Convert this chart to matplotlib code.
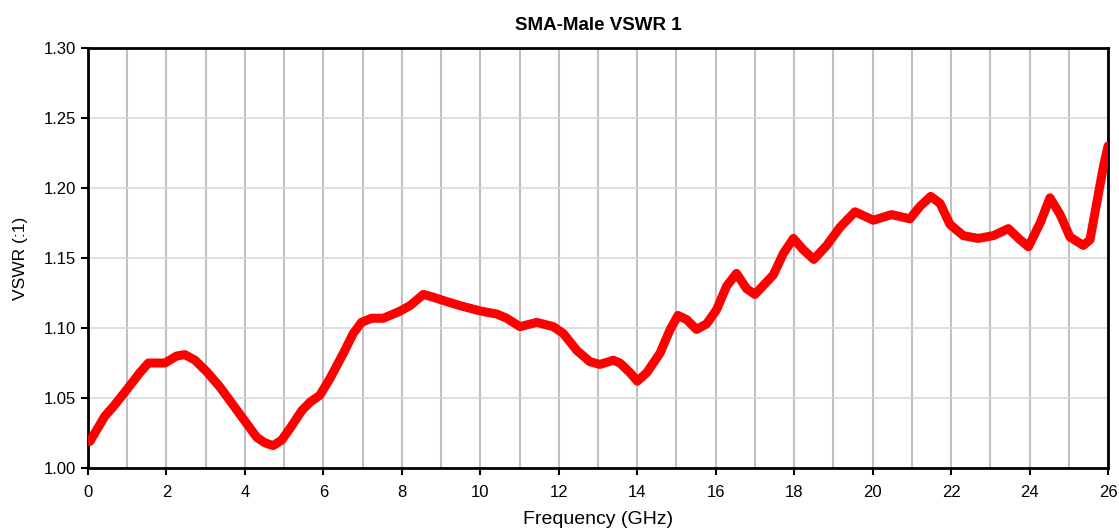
import numpy as np
import matplotlib.pyplot as plt
from matplotlib.ticker import MultipleLocator

plt.rcParams['font.family'] = ['Liberation Sans', 'DejaVu Sans']

# values
freq_ghz = [0.05, 0.43, 0.65, 0.99, 1.32, 1.54, 1.96, 2.26, 2.47, 2.73,
            3.02, 3.36, 3.70, 4.04, 4.30, 4.51, 4.72, 4.94, 5.19, 5.45,
            5.66, 5.91, 6.17, 6.51, 6.76, 6.97, 7.23, 7.53, 7.95, 8.21,
            8.55, 8.80, 9.02, 9.48, 10.03, 10.42, 10.67, 11.01, 11.44, 11.86,
            12.12, 12.46, 12.79, 13.05, 13.39, 13.56, 13.82, 14.00, 14.24, 14.58,
            14.84, 15.04, 15.26, 15.51, 15.77, 16.02, 16.28, 16.53, 16.79, 17.00,
            17.47, 17.72, 17.98, 18.23, 18.50, 18.83, 19.17, 19.55, 20.02, 20.48,
            20.95, 21.21, 21.48, 21.72, 21.97, 22.31, 22.69, 23.08, 23.46, 23.72,
            23.97, 24.27, 24.52, 24.78, 25.03, 25.37, 25.54, 25.71, 25.88, 26.00]
vswr = [1.019, 1.037, 1.044, 1.056, 1.068, 1.075, 1.075, 1.080, 1.081, 1.077,
        1.069, 1.058, 1.045, 1.032, 1.022, 1.018, 1.016, 1.020, 1.030, 1.041,
        1.047, 1.052, 1.064, 1.082, 1.096, 1.104, 1.107, 1.107, 1.112, 1.116,
        1.124, 1.122, 1.120, 1.116, 1.112, 1.110, 1.107, 1.101, 1.104, 1.101,
        1.096, 1.084, 1.076, 1.074, 1.077, 1.075, 1.068, 1.062, 1.068, 1.082,
        1.099, 1.109, 1.106, 1.099, 1.103, 1.113, 1.130, 1.139, 1.128, 1.124,
        1.138, 1.153, 1.164, 1.156, 1.149, 1.159, 1.172, 1.183, 1.177, 1.181,
        1.178, 1.187, 1.194, 1.189, 1.174, 1.166, 1.164, 1.166, 1.171, 1.164,
        1.158, 1.175, 1.193, 1.181, 1.165, 1.159, 1.163, 1.189, 1.215, 1.230]

fig = plt.figure(figsize=(11.19, 5.31), dpi=100)
ax = fig.add_axes([0.0786, 0.1186, 0.9116, 0.791])

ax.plot(freq_ghz, vswr, color='#ff0000', lw=6.5, solid_joinstyle='round',
        solid_capstyle='round', zorder=3)

ax.set_xlim(0, 26)
ax.set_ylim(1.0, 1.3)
ax.xaxis.set_major_locator(MultipleLocator(2))
ax.xaxis.set_minor_locator(MultipleLocator(1))
ax.yaxis.set_major_locator(MultipleLocator(0.05))
ax.yaxis.set_major_formatter(plt.FormatStrFormatter('%.2f'))

ax.grid(True, axis='x', which='both', color='#c0c0c0', lw=1.5, zorder=1)
ax.grid(True, axis='y', which='major', color='#d9d9d9', lw=1.2, zorder=1)
ax.tick_params(which='major', direction='out', length=5, width=1.5,
               labelsize=12, color='black')
ax.tick_params(axis='x', which='major', pad=7)
ax.tick_params(which='minor', length=0)
for sp in ax.spines.values():
    sp.set_linewidth(2)
    sp.set_color('black')

ax.set_title('SMA-Male VSWR 1', fontsize=13.5, fontweight='bold', pad=13)
ax.set_xlabel('Frequency (GHz)', fontsize=14, labelpad=8)
ax.set_ylabel('VSWR (:1)', fontsize=12.5, labelpad=11)

fig.savefig('out.png', dpi=100)
